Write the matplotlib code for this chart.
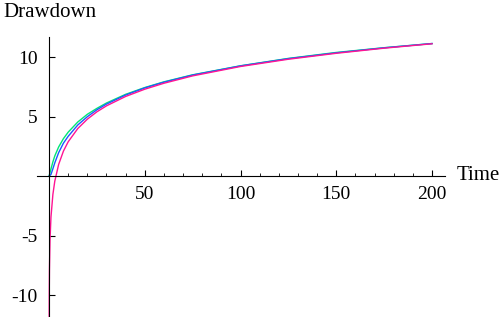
import numpy as np
import matplotlib
matplotlib.use("Agg")
import matplotlib.pyplot as plt
from matplotlib.ticker import MultipleLocator

# values
t_green = [0, 1, 2, 3, 5, 7.5, 10, 15, 20, 25, 30, 40, 50, 60, 75, 100, 125, 150, 175, 200]
s_green = [0, 0.6, 1.2, 1.7, 2.45, 3.15, 3.7, 4.55, 5.2, 5.7, 6.15, 6.88, 7.45, 7.93, 8.52, 9.28, 9.9, 10.4, 10.8, 11.15]

t_blue = [0, 1, 2, 3, 5, 7.5, 10, 15, 20, 25, 30, 40, 50, 60, 75, 100, 125, 150, 175, 200]
s_blue = [0, 0.14, 0.62, 1.12, 1.97, 2.77, 3.35, 4.3, 5.0, 5.58, 6.06, 6.82, 7.42, 7.9, 8.5, 9.27, 9.88, 10.37, 10.79, 11.15]

t_mag = [0.04, 0.1, 0.2, 0.5, 1, 2, 3, 5, 7.5, 10, 15, 20, 25, 30, 40, 50, 60, 75, 100, 125, 150, 175, 200]
s_mag = [-12.3, -9.78, -7.87, -5.35, -3.44, -1.54, -0.42, 0.98, 2.1, 2.89, 4.0, 4.79, 5.41, 5.91, 6.7, 7.31, 7.81, 8.43, 9.22, 9.83, 10.33, 10.76, 11.13]

x_major = [50, 100, 150, 200]
y_major = [-10, -5, 5, 10]

plt.rcParams['font.family'] = ['Liberation Serif', 'DejaVu Serif']
plt.rcParams['axes.unicode_minus'] = False

fig = plt.figure(figsize=(5.0, 3.17), dpi=100)
ax = fig.add_axes([37/500, 0, 408/500, 280/317])

ax.plot(t_green, s_green, color='#00E676', lw=1.0)
ax.plot(t_blue, s_blue, color='#1E5AFF', lw=1.0)
ax.plot(t_mag, s_mag, color='#FF1493', lw=1.0)

ax.set_xlim(-6.3, 206.8)
ax.set_ylim(-11.85, 11.7)

for side in ['top', 'right']:
    ax.spines[side].set_visible(False)
ax.spines['left'].set_position(('data', 0))
ax.spines['bottom'].set_position(('data', 0))
for side in ['left', 'bottom']:
    ax.spines[side].set_linewidth(0.8)

ax.set_xticks(x_major)
ax.xaxis.set_minor_locator(MultipleLocator(10))
ax.set_yticks(y_major)
ax.tick_params(axis='both', which='major', direction='in', length=4, width=0.8, labelsize=14)
ax.tick_params(axis='x', which='minor', direction='in', length=2.5, width=0.6)
ax.tick_params(axis='x', which='major', pad=7)
ax.tick_params(axis='y', which='major', pad=8)
ax.patch.set_visible(False)

fig.text(3/500, 1 - 3/317, 'Drawdown', fontsize=15, va='top', ha='left')
fig.text(457/500, 1 - 176/317, 'Time', fontsize=15, va='center', ha='left')

fig.savefig('out.png', dpi=100)
